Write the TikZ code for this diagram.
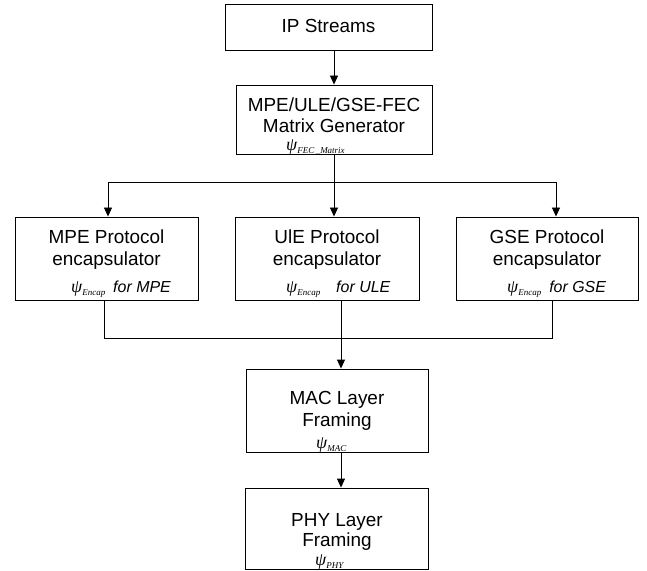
\documentclass[tikz,border=0pt]{standalone}
\usepackage{fontspec}
\setmainfont{Liberation Sans}
\newfontfamily\tmsfont{Liberation Serif}
\usetikzlibrary{arrows.meta}
\newcommand{\psisub}[1]{{\tmsfont\itshape\fontsize{18}{18}\selectfont ψ}\raisebox{-3bp}{\tmsfont\itshape\fontsize{9}{9}\selectfont #1}}
\newcommand{\forlbl}[1]{{\itshape\fontsize{16}{16}\selectfont #1}}
\begin{document}
\begin{tikzpicture}[x=1bp,y=-1bp,
  box/.style={draw=black,line width=0.9bp,inner sep=0pt},
  txt/.style={inner sep=0pt,anchor=base,font=\fontsize{19}{22}\selectfont},
  lbl/.style={inner sep=0pt,anchor=base west},
  arr/.style={line width=0.9bp,-{Triangle[length=9bp,width=8bp]}},
  ln/.style={line width=0.9bp}]
\useasboundingbox (0,0) rectangle (647,571);
% boxes
\node[box,minimum width=207bp,minimum height=46bp] (ip) at (328.5,27) {};
\node[box,minimum width=196bp,minimum height=69bp] (fec) at (334,119.5) {};
\node[box,minimum width=183bp,minimum height=83bp] (mpe) at (106.5,258.5) {};
\node[box,minimum width=184bp,minimum height=83bp] (ule) at (327,258.5) {};
\node[box,minimum width=182bp,minimum height=83bp] (gse) at (547,258.5) {};
\node[box,minimum width=182bp,minimum height=83bp] (mac) at (337,410.5) {};
\node[box,minimum width=183bp,minimum height=81bp] (phy) at (337,528.5) {};
% texts
\node[txt] (tip) at (328.5,33) {IP Streams};
\node[txt] (tfec1) at (334,112) {MPE/ULE/GSE-FEC};
\node[txt] (tfec2) at (334,133) {Matrix Generator};
\node[lbl] (tfec3) at (286,151) {\psisub{FEC\,\_Matrix}};
\node[txt] (tmpe1) at (106.5,243) {MPE Protocol};
\node[txt] (tmpe2) at (106.5,265) {encapsulator};
\node[lbl] (tmpe3) at (71,292) {\psisub{Encap}\hspace{8bp}\forlbl{for MPE}};
\node[txt] (tule1) at (327,243) {UlE Protocol};
\node[txt] (tule2) at (327,265) {encapsulator};
\node[lbl] (tule3) at (286,292) {\psisub{Encap}\hspace{16bp}\forlbl{for ULE}};
\node[txt] (tgse1) at (547,243) {GSE Protocol};
\node[txt] (tgse2) at (547,265) {encapsulator};
\node[lbl] (tgse3) at (507,292) {\psisub{Encap}\hspace{8bp}\forlbl{for GSE}};
\node[txt] (tmac1) at (337,404) {MAC Layer};
\node[txt] (tmac2) at (337,426) {Framing};
\node[lbl] (tmac3) at (316,448) {\psisub{MAC}};
\node[txt] (tphy1) at (337,526) {PHY Layer};
\node[txt] (tphy2) at (337,546) {Framing};
\node[lbl] (tphy3) at (315,565) {\psisub{PHY}};
% connectors
\coordinate (j1) at (108,182);
\coordinate (j2) at (556,182);
\coordinate (k1) at (104,338);
\coordinate (k2) at (552,338);
\coordinate (km) at (341,338);
\draw[arr] (ip.south -| fec.north) -- (fec.north);
\draw[arr] (fec.south) -- (fec.south |- ule.north);
\draw[ln] (j1) -- (j2);
\draw[arr] (j1) -- (j1 |- mpe.north);
\draw[arr] (j2) -- (j2 |- gse.north);
\draw[ln] (k1 |- mpe.south) -- (k1) -- (k2) -- (k2 |- gse.south);
\draw[arr] (km |- ule.south) -- (km |- mac.north);
\draw[arr] (km |- mac.south) -- (km |- phy.north);
\end{tikzpicture}
\end{document}
